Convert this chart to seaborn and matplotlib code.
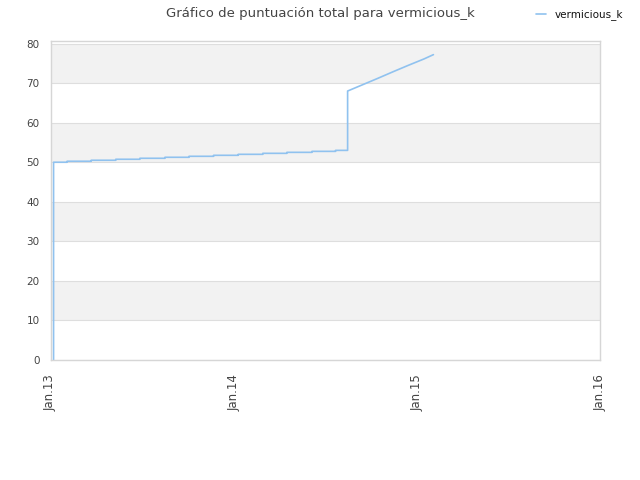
import matplotlib
matplotlib.use('Agg')
import matplotlib.pyplot as plt
import pandas as pd
import seaborn as sns

usuario = 'vermicious_k'
inicio = '2013-01-07'   # first record, score 0

# plateau levels and the date each one starts
escalon_fechas = ['2013-01-07', '2013-02-03', '2013-03-23', '2013-05-11', '2013-06-28',
                  '2013-08-17', '2013-10-04', '2013-11-22', '2014-01-10', '2014-02-28',
                  '2014-04-17', '2014-06-06', '2014-07-23']
escalon_puntos = [50.0, 50.25, 50.5, 50.75, 51.0, 51.25, 51.5, 51.75, 52.0,
                  52.25, 52.5, 52.75, 53.0]

# after the jump the score climbs steadily
subida_fechas = ['2014-08-16', '2014-09-15', '2014-10-15', '2014-11-15',
                 '2014-12-15', '2015-01-15', '2015-02-03']
subida_puntos = [68.0, 69.6, 71.2, 72.9, 74.5, 76.1, 77.2]

x_ticks = ['2013-01-01', '2014-01-01', '2015-01-01', '2016-01-01']
x_labels = ['Jan.13', 'Jan.14', 'Jan.15', 'Jan.16']

# expand plateaus into step rows
fechas = [inicio]
puntos = [0]
finales = escalon_fechas[1:] + [subida_fechas[0]]
for f0, f1, p in zip(escalon_fechas, finales, escalon_puntos):
    fechas += [f0, f1]
    puntos += [p, p]
fechas += subida_fechas
puntos += subida_puntos

df = pd.DataFrame({'fecha': pd.to_datetime(fechas), 'puntos': puntos, 'usuario': usuario})

sns.set_style('white')
plt.rcParams['font.family'] = ['DejaVu Sans']

fig = plt.figure(figsize=(6.4, 4.8), dpi=100)
ax = fig.add_axes([0.079, 0.25, 0.8585, 0.665])

# alternating bands
for lo in range(10, 80, 20):
    ax.axhspan(lo, lo + 10, color='#f2f2f2', zorder=0, lw=0)

sns.lineplot(data=df, x='fecha', y='puntos', hue='usuario', palette=['#90c2ef'],
             estimator=None, sort=False, lw=1.2, ax=ax)

ax.set_ylim(0, 80.7)
ax.set_yticks(range(0, 81, 10))
ax.set_xlim(pd.Timestamp(x_ticks[0]), pd.Timestamp(x_ticks[-1]))
ax.set_xticks(pd.to_datetime(x_ticks))
ax.set_xticklabels(x_labels, rotation=90)
ax.tick_params(axis='y', labelsize=7.5, colors='#444444', length=0, pad=8)
ax.tick_params(axis='x', labelsize=8.5, colors='#444444', length=0, pad=10)
ax.set_xlabel('')
ax.set_ylabel('')
ax.grid(axis='y', color='#dedede', lw=0.8)
ax.set_axisbelow(True)
for s in ax.spines.values():
    s.set_color('#d6d6d6')
    s.set_linewidth(1)

fig.suptitle('Gráfico de puntuación total para vermicious_k', x=0.5, y=0.985,
             fontsize=9.5, color='#444444')

leg = ax.legend(loc='upper right', bbox_to_anchor=(0.988, 1.0), bbox_transform=fig.transFigure,
                frameon=False, fontsize=7.5, handlelength=1.0, handletextpad=0.8)
for t in leg.get_texts():
    t.set_color('#111111')

fig.savefig('out.png', dpi=100)
